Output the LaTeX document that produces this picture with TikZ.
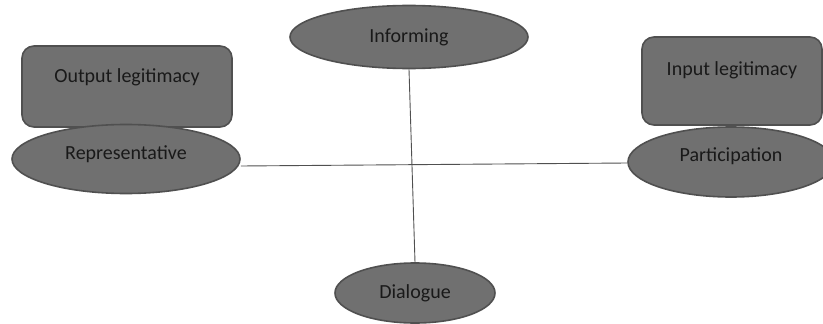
\documentclass[tikz,border=0pt]{standalone}
\usepackage{fontspec}
\setmainfont{Carlito}
\usetikzlibrary{shapes.geometric}
\definecolor{fillg}{RGB}{112,112,112}
\definecolor{lineg}{RGB}{80,80,80}
\definecolor{txt}{RGB}{25,25,25}
\tikzset{lbl/.style={text=txt,font=\fontsize{20}{24}\selectfont}}
\begin{document}
\begin{tikzpicture}[x=1pt,y=-1pt,
  oval/.style={ellipse,draw=lineg,fill=fillg,line width=1.6pt,inner sep=0pt,lbl},
  legit/.style={rectangle,rounded corners=12pt,draw=lineg,fill=fillg,line width=1.6pt,inner sep=0pt},
  link/.style={draw=lineg,line width=0.9pt}]
\useasboundingbox (0,0) rectangle (823,324);
\clip (0,0) rectangle (823,324);
\node[legit,minimum width=210pt,minimum height=81pt] (outbox) at (127,86.5) {};
\node[lbl] (outtxt) at (127,77) {Output legitimacy};
\node[legit,minimum width=180pt,minimum height=88pt] (inbox) at (732,81) {};
\node[lbl] (intxt) at (732,70) {Input legitimacy};
\node[oval,minimum width=228pt,minimum height=69pt] (rep) at (126,159) {};
\node[lbl] (reptxt) at (126,154) {Representative};
\node[oval,minimum width=206pt,minimum height=70pt] (par) at (731,162) {};
\node[lbl] (partxt) at (731,156) {Participation};
\node[oval,minimum width=238pt,minimum height=63pt] (inf) at (409,37) {Informing};
\node[oval,minimum width=160pt,minimum height=60pt] (dia) at (415,293) {Dialogue};
\draw[link] (rep.east |- 0,166) -- (par.west |- 0,163);
\draw[link] (inf.south) -- (dia.north);
\end{tikzpicture}
\end{document}
